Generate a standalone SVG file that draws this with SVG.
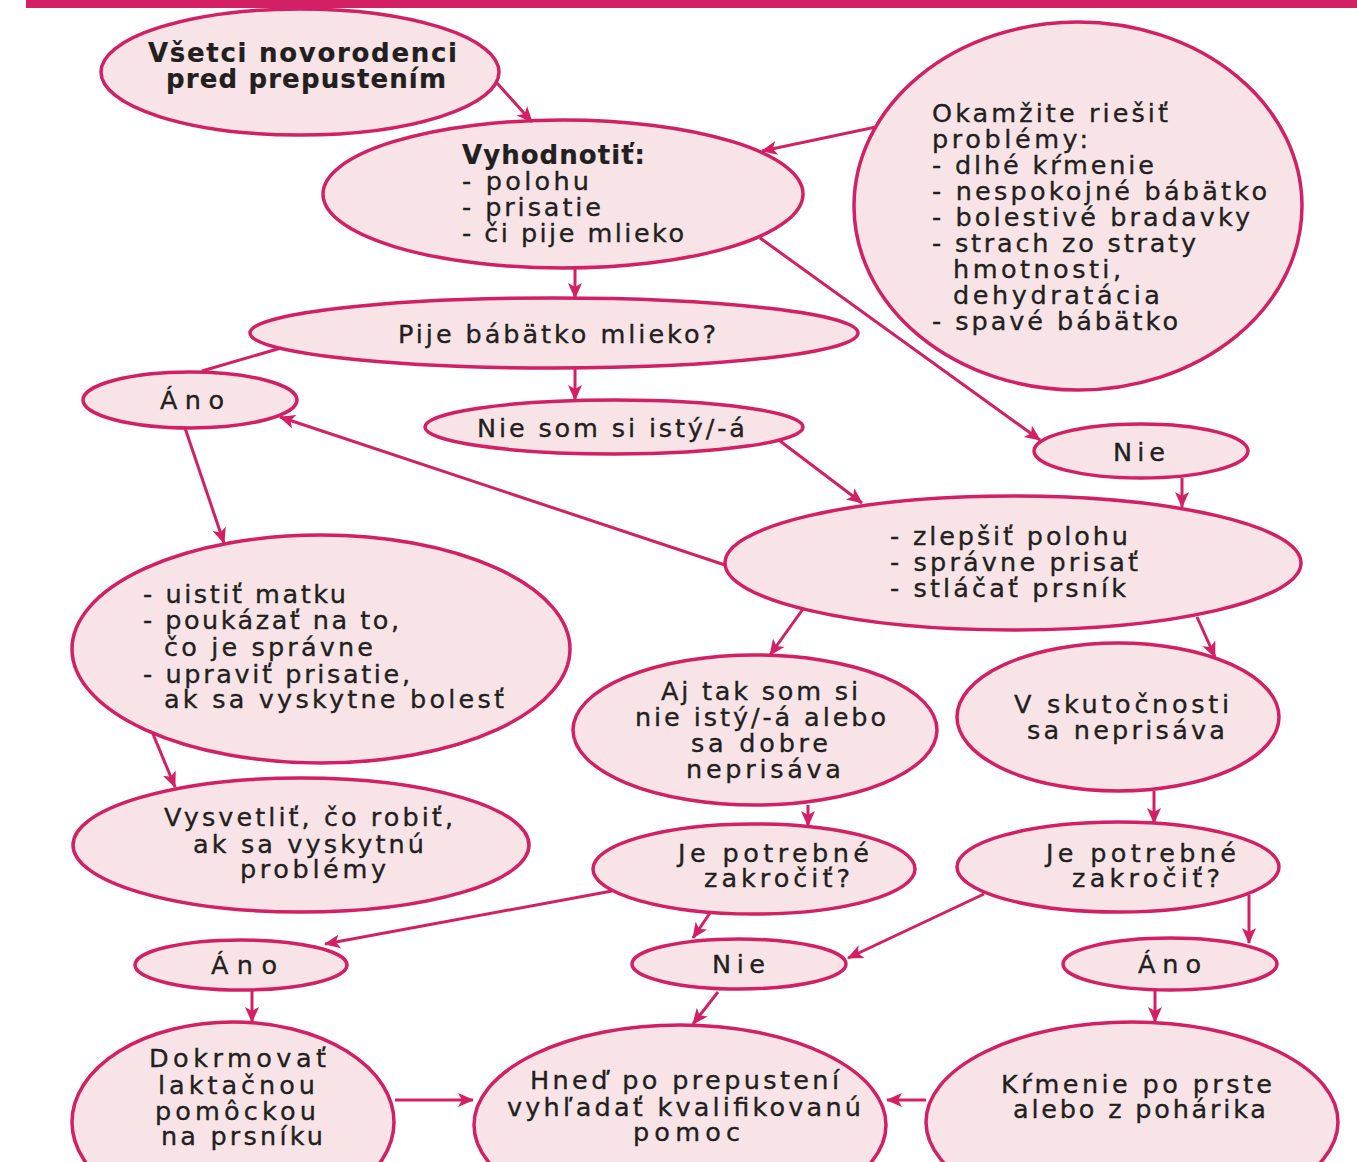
<svg xmlns="http://www.w3.org/2000/svg" width="1357" height="1162" viewBox="0 0 1357 1162">
<defs>
<style>
.n{fill:#F8E4E7;stroke:#D31F63;stroke-width:3.5}
.t{font-family:"DejaVu Sans","Liberation Sans",sans-serif;font-size:25.5px;fill:#231F20;stroke:#231F20;stroke-width:0.35}
.b{font-weight:bold;font-size:26px;stroke-width:0.2}
.c line{stroke:#D31F63;stroke-width:3;fill:none}
</style>
<marker id="ah" viewBox="0 0 16 16" markerWidth="16" markerHeight="16" refX="15" refY="8" orient="auto" markerUnits="userSpaceOnUse">
<path d="M0,1 L16,8 L0,15 L4,8 z" fill="#D31F63"/>
</marker>
</defs>
<rect width="1357" height="1162" fill="#fff"/>

<g id="n1"><ellipse class="n" cx="300" cy="72" rx="199" ry="63"/>
<text class="t b"><tspan x="148" y="62" textLength="309" lengthAdjust="spacing">Všetci novorodenci</tspan><tspan x="166" y="88" textLength="280" lengthAdjust="spacing">pred prepustením</tspan></text></g>

<g id="n2"><ellipse class="n" cx="563" cy="194" rx="240" ry="74"/>
<text class="t"><tspan class="b" x="462" y="164" textLength="183" lengthAdjust="spacing">Vyhodnotiť:</tspan><tspan x="462" y="190" textLength="127" lengthAdjust="spacing">- polohu</tspan><tspan x="462" y="216" textLength="139" lengthAdjust="spacing">- prisatie</tspan><tspan x="462" y="242" textLength="222" lengthAdjust="spacing">- či pije mlieko</tspan></text></g>

<g id="n3"><ellipse class="n" cx="1078" cy="206" rx="224" ry="184"/>
<text class="t"><tspan x="932" y="122" textLength="236" lengthAdjust="spacing">Okamžite riešiť</tspan><tspan x="932" y="148" textLength="156" lengthAdjust="spacing">problémy:</tspan><tspan x="932" y="174" textLength="222" lengthAdjust="spacing">- dlhé kŕmenie</tspan><tspan x="932" y="200" textLength="335" lengthAdjust="spacing">- nespokojné bábätko</tspan><tspan x="932" y="226" textLength="318" lengthAdjust="spacing">- bolestivé bradavky</tspan><tspan x="932" y="252" textLength="264" lengthAdjust="spacing">- strach zo straty</tspan><tspan x="953" y="278" textLength="168" lengthAdjust="spacing">hmotnosti,</tspan><tspan x="953" y="304" textLength="207" lengthAdjust="spacing">dehydratácia</tspan><tspan x="932" y="330" textLength="246" lengthAdjust="spacing">- spavé bábätko</tspan></text></g>

<g id="n4"><ellipse class="n" cx="554" cy="333" rx="304" ry="35"/>
<text class="t"><tspan x="398" y="343" textLength="318" lengthAdjust="spacing">Pije bábätko mlieko?</tspan></text></g>

<g id="n5"><ellipse class="n" cx="190" cy="400" rx="107" ry="28"/>
<text class="t"><tspan x="160" y="409" textLength="64" lengthAdjust="spacing">Áno</tspan></text></g>

<g id="n6"><ellipse class="n" cx="614" cy="427" rx="189" ry="27"/>
<text class="t"><tspan x="477" y="437" textLength="268" lengthAdjust="spacing">Nie som si istý/-á</tspan></text></g>

<g id="n7"><ellipse class="n" cx="1141" cy="451" rx="107" ry="27"/>
<text class="t"><tspan x="1113" y="461" textLength="52" lengthAdjust="spacing">Nie</tspan></text></g>

<g id="n8"><ellipse class="n" cx="1013" cy="563" rx="288" ry="67"/>
<text class="t"><tspan x="890" y="545" textLength="238" lengthAdjust="spacing">- zlepšiť polohu</tspan><tspan x="890" y="571" textLength="248" lengthAdjust="spacing">- správne prisať</tspan><tspan x="890" y="597" textLength="236" lengthAdjust="spacing">- stláčať prsník</tspan></text></g>

<g id="n9"><ellipse class="n" cx="321" cy="649" rx="249" ry="114"/>
<text class="t"><tspan x="143" y="603" textLength="203" lengthAdjust="spacing">- uistiť matku</tspan><tspan x="143" y="629" textLength="256" lengthAdjust="spacing">- poukázať na to,</tspan><tspan x="164" y="656" textLength="209" lengthAdjust="spacing">čo je správne</tspan><tspan x="143" y="683" textLength="267" lengthAdjust="spacing">- upraviť prisatie,</tspan><tspan x="164" y="708" textLength="340" lengthAdjust="spacing">ak sa vyskytne bolesť</tspan></text></g>

<g id="n10"><ellipse class="n" cx="301" cy="845" rx="228" ry="67"/>
<text class="t"><tspan x="164" y="826" textLength="289" lengthAdjust="spacing">Vysvetliť, čo robiť,</tspan><tspan x="193" y="853" textLength="231" lengthAdjust="spacing">ak sa vyskytnú</tspan><tspan x="240" y="878" textLength="146" lengthAdjust="spacing">problémy</tspan></text></g>

<g id="n11"><ellipse class="n" cx="755" cy="730" rx="182" ry="75"/>
<text class="t"><tspan x="661" y="700" textLength="197" lengthAdjust="spacing">Aj tak som si</tspan><tspan x="635" y="726" textLength="251" lengthAdjust="spacing">nie istý/-á alebo</tspan><tspan x="691" y="752" textLength="137" lengthAdjust="spacing">sa dobre</tspan><tspan x="686" y="778" textLength="155" lengthAdjust="spacing">neprisáva</tspan></text></g>

<g id="n12"><ellipse class="n" cx="1118" cy="717" rx="161" ry="74"/>
<text class="t"><tspan x="1014" y="713" textLength="215" lengthAdjust="spacing">V skutočnosti</tspan><tspan x="1027" y="739" textLength="198" lengthAdjust="spacing">sa neprisáva</tspan></text></g>

<g id="n13"><ellipse class="n" cx="754" cy="869" rx="161" ry="45"/>
<text class="t"><tspan x="678" y="862" textLength="191" lengthAdjust="spacing">Je potrebné</tspan><tspan x="704" y="887" textLength="146" lengthAdjust="spacing">zakročiť?</tspan></text></g>

<g id="n14"><ellipse class="n" cx="1118" cy="867" rx="161" ry="45"/>
<text class="t"><tspan x="1046" y="862" textLength="190" lengthAdjust="spacing">Je potrebné</tspan><tspan x="1072" y="887" textLength="148" lengthAdjust="spacing">zakročiť?</tspan></text></g>

<g id="n15"><ellipse class="n" cx="241" cy="965" rx="106" ry="25"/>
<text class="t"><tspan x="211" y="974" textLength="66" lengthAdjust="spacing">Áno</tspan></text></g>

<g id="n16"><ellipse class="n" cx="739" cy="964" rx="107" ry="25"/>
<text class="t"><tspan x="712" y="973" textLength="53" lengthAdjust="spacing">Nie</tspan></text></g>

<g id="n17"><ellipse class="n" cx="1170" cy="964" rx="107" ry="26"/>
<text class="t"><tspan x="1138" y="973" textLength="63" lengthAdjust="spacing">Áno</tspan></text></g>

<g id="n18"><ellipse class="n" cx="233" cy="1122" rx="161" ry="100"/>
<text class="t"><tspan x="149" y="1067" textLength="177" lengthAdjust="spacing">Dokrmovať</tspan><tspan x="158" y="1094" textLength="157" lengthAdjust="spacing">laktačnou</tspan><tspan x="155" y="1120" textLength="161" lengthAdjust="spacing">pomôckou</tspan><tspan x="161" y="1145" textLength="162" lengthAdjust="spacing">na prsníku</tspan></text></g>

<g id="n19"><ellipse class="n" cx="680" cy="1125" rx="206" ry="100"/>
<text class="t"><tspan x="530" y="1089" textLength="309" lengthAdjust="spacing">Hneď po prepustení</tspan><tspan x="507" y="1116" textLength="354" lengthAdjust="spacing">vyhľadať kvalifikovanú</tspan><tspan x="633" y="1141" textLength="107" lengthAdjust="spacing">pomoc</tspan></text></g>

<g id="n20"><ellipse class="n" cx="1132" cy="1122" rx="206" ry="100"/>
<text class="t"><tspan x="1001" y="1093" textLength="271" lengthAdjust="spacing">Kŕmenie po prste</tspan><tspan x="1013" y="1118" textLength="253" lengthAdjust="spacing">alebo z pohárika</tspan></text></g>

<g id="connectors" class="c">
<line x1="497" y1="83" x2="532" y2="122" marker-end="url(#ah)"/>
<line x1="876" y1="127" x2="762" y2="151" marker-end="url(#ah)"/>
<line x1="575" y1="268" x2="575" y2="298" marker-end="url(#ah)"/>
<line x1="760" y1="238" x2="1040" y2="440" marker-end="url(#ah)"/>
<line x1="281" y1="348" x2="202" y2="371"/>
<line x1="575" y1="368" x2="575" y2="400" marker-end="url(#ah)"/>
<line x1="780" y1="441" x2="862" y2="503" marker-end="url(#ah)"/>
<line x1="1182" y1="478" x2="1182" y2="507" marker-end="url(#ah)"/>
<line x1="725" y1="565" x2="280" y2="417" marker-end="url(#ah)"/>
<line x1="185" y1="428" x2="224" y2="543" marker-end="url(#ah)"/>
<line x1="803" y1="609" x2="770" y2="655" marker-end="url(#ah)"/>
<line x1="1197" y1="617" x2="1215" y2="657" marker-end="url(#ah)"/>
<line x1="153" y1="734" x2="175" y2="787" marker-end="url(#ah)"/>
<line x1="808" y1="805" x2="808" y2="826" marker-end="url(#ah)"/>
<line x1="1154" y1="791" x2="1154" y2="823" marker-end="url(#ah)"/>
<line x1="612" y1="891" x2="325" y2="944" marker-end="url(#ah)"/>
<line x1="710" y1="913" x2="693" y2="938" marker-end="url(#ah)"/>
<line x1="984" y1="894" x2="848" y2="958" marker-end="url(#ah)"/>
<line x1="1249" y1="895" x2="1249" y2="943" marker-end="url(#ah)"/>
<line x1="252" y1="990" x2="252" y2="1022" marker-end="url(#ah)"/>
<line x1="718" y1="992" x2="693" y2="1024" marker-end="url(#ah)"/>
<line x1="1155" y1="990" x2="1155" y2="1022" marker-end="url(#ah)"/>
<line x1="395" y1="1100" x2="473" y2="1100" marker-end="url(#ah)"/>
<line x1="926" y1="1100" x2="887" y2="1100" marker-end="url(#ah)"/>
</g>

<rect id="topbar" x="26" y="0" width="1331" height="8" fill="#D31F63"/>
</svg>
